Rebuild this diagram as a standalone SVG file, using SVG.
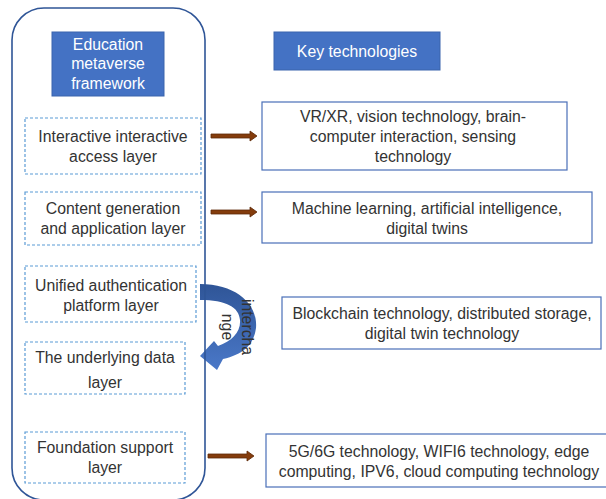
<svg xmlns="http://www.w3.org/2000/svg" width="606" height="499" viewBox="0 0 606 499">
  <style>
    text { font-family: "Liberation Sans", Arial, sans-serif; font-size: 15.8px; fill: #333333; text-anchor: middle; }
    .title { fill: #ffffff; }
    .head { fill: #4472c4; stroke: #3a64ad; stroke-width: 1; }
    .layer { fill: #ffffff; stroke: #5b9bd5; stroke-width: 1.2; stroke-dasharray: 3 2; }
    .tech { fill: #ffffff; stroke: #4a6fb8; stroke-width: 1.2; }
    .frame { fill: none; stroke: #2f5597; stroke-width: 1.6; }
    .arrow { fill: #843c0c; stroke: #5e2a08; stroke-width: 0.8; }
  </style>
  <defs>
    <linearGradient id="swapFill" x1="0" y1="0" x2="0" y2="1">
      <stop offset="0" stop-color="#2f5597"/>
      <stop offset="1" stop-color="#4a78c8"/>
    </linearGradient>
  </defs>

  <rect width="606" height="499" fill="#ffffff"/>

  <!-- framework column -->
  <g id="framework">
    <g id="framework-title">
      <rect class="head" x="52" y="32" width="112" height="64"/>
      <text class="title" x="108" y="49.5">Education</text>
      <text class="title" x="108" y="69">metaverse</text>
      <text class="title" x="108" y="88.5">framework</text>
    </g>
    <g id="layer-access">
      <rect class="layer" x="25" y="118" width="176" height="56"/>
      <text x="113" y="142">Interactive interactive</text>
      <text x="113" y="162">access layer</text>
    </g>
    <g id="layer-content">
      <rect class="layer" x="25" y="192" width="176" height="53"/>
      <text x="113" y="214">Content generation</text>
      <text x="113" y="234">and application layer</text>
    </g>
    <g id="layer-auth">
      <rect class="layer" x="25" y="266" width="171" height="56"/>
      <text x="111" y="291">Unified authentication</text>
      <text x="111" y="311">platform layer</text>
    </g>
    <g id="layer-data">
      <rect class="layer" x="25" y="342" width="160" height="52"/>
      <text x="105" y="363">The underlying data</text>
      <text x="105" y="388">layer</text>
    </g>
    <g id="layer-foundation">
      <rect class="layer" x="25" y="432" width="160" height="51"/>
      <text x="105" y="453">Foundation support</text>
      <text x="105" y="473">layer</text>
    </g>
  </g>

  <!-- key technologies column -->
  <g id="technologies">
    <g id="tech-title">
      <rect class="head" x="274" y="32" width="166" height="38"/>
      <text class="title" x="357" y="57">Key technologies</text>
    </g>
    <g id="tech-access">
      <rect class="tech" x="262" y="102" width="305" height="68"/>
      <text x="413" y="122">VR/XR, vision technology, brain-</text>
      <text x="413" y="142">computer interaction, sensing</text>
      <text x="413" y="162">technology</text>
    </g>
    <g id="tech-content">
      <rect class="tech" x="262" y="192" width="330" height="51"/>
      <text x="427" y="214">Machine learning, artificial intelligence,</text>
      <text x="427" y="234">digital twins</text>
    </g>
    <g id="tech-data">
      <rect class="tech" x="282" y="297" width="319" height="52"/>
      <text x="442" y="319">Blockchain technology, distributed storage,</text>
      <text x="442" y="339">digital twin technology</text>
    </g>
    <g id="tech-foundation">
      <rect class="tech" x="266" y="434" width="350" height="53"/>
      <text x="439" y="457">5G/6G technology, WIFI6 technology, edge</text>
      <text x="439" y="477">computing, IPV6, cloud computing technology</text>
    </g>
  </g>

  <!-- connectors -->
  <g id="connectors">
    <path class="arrow" d="M211,134 H250 V131 L257,136 L250,141 V138 H211 Z"/>
    <path class="arrow" d="M211,210 H250 V207 L257,212 L250,217 V214 H211 Z"/>
    <path class="arrow" d="M208,454 H247 V451 L254,456 L247,461 V458 H208 Z"/>
    <g id="interchange">
      <path fill="url(#swapFill)" d="M200,284 C236,284 258,304 256,328 C254,345 242,355 223,359 L217,370 L200,356 L214,341 L218,346 C232,341 241,332 240,320 C239,307 226,300 200,300 Z"/>
      <text transform="translate(242,327) rotate(90)">intercha</text>
      <text transform="translate(222,327) rotate(90)">nge</text>
    </g>
  </g>

  <rect class="frame" x="12" y="8" width="193" height="492" rx="32" ry="32"/>
</svg>
